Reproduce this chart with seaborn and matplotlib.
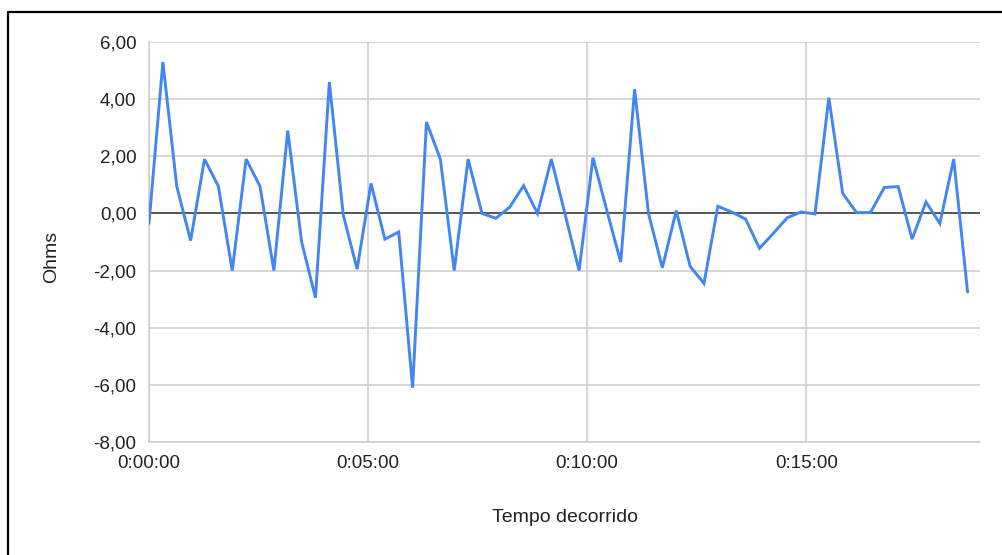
import matplotlib
matplotlib.use("Agg")
import matplotlib.pyplot as plt
import seaborn as sns
import pandas as pd
from matplotlib.lines import Line2D
from matplotlib.ticker import FuncFormatter

# tempo decorrido (segundos) e leitura em ohms
tempo_s = [0, 19, 38, 57, 76, 95, 114, 133, 152, 171,
           190, 209, 228, 247, 266, 285, 304, 323, 342, 361,
           380, 399, 418, 437, 456, 475, 494, 513, 532, 551,
           570, 589, 608, 627, 646, 665, 684, 703, 722, 741,
           760, 779, 798, 817, 836, 855, 874, 893, 912, 931,
           950, 969, 988, 1007, 1026, 1045, 1064, 1083, 1102, 1121]
ohms = [-0.35, 5.3, 0.95, -0.95, 1.9, 0.95, -2.0, 1.9, 0.95, -2.0,
        2.9, -1.0, -2.95, 4.6, -0.05, -1.95, 1.05, -0.9, -0.65, -6.1,
        3.2, 1.9, -2.0, 1.9, 0.0, -0.17, 0.22, 0.97, 0.0, 1.9,
        -0.05, -2.0, 1.95, 0.1, -1.7, 4.35, 0.0, -1.9, 0.1, -1.85,
        -2.45, 0.25, 0.05, -0.2, -1.22, -0.7, -0.15, 0.05, -0.02, 4.05,
        0.7, 0.03, 0.03, 0.91, 0.94, -0.9, 0.4, -0.35, 1.9, -2.75]

yticks = [-8, -6, -4, -2, 0, 2, 4, 6]
xticks = [0, 300, 600, 900]

df = pd.DataFrame({"Tempo decorrido": tempo_s, "Ohms": ohms})

sns.set_style("white")
plt.rcParams["font.family"] = ["Liberation Sans", "DejaVu Sans"]

fig = plt.figure(figsize=(10.02, 5.55), dpi=100)
ax = fig.add_axes([149 / 1002, 113 / 555, 831 / 1002, 400 / 555])

sns.lineplot(data=df, x="Tempo decorrido", y="Ohms", ax=ax,
             color="#4285F4", linewidth=2.1, zorder=3)
ax.lines[0].set_solid_joinstyle("miter")

ax.axhline(0, color="#333333", linewidth=1.1, zorder=2)

ax.set_xlim(0, 1138)
ax.set_ylim(-8, 6)
ax.set_xticks(xticks)
ax.set_yticks(yticks)


def fmt_tempo(v, pos):
    v = int(round(v))
    return f"{v // 3600}:{(v % 3600) // 60:02d}:{v % 60:02d}"


ax.xaxis.set_major_formatter(FuncFormatter(fmt_tempo))
ax.yaxis.set_major_formatter(FuncFormatter(lambda v, p: f"{v:.2f}".replace(".", ",")))

ax.grid(True, color="#cccccc", linewidth=1.1, zorder=0)
for lado in ["top", "right"]:
    ax.spines[lado].set_visible(False)
for lado in ["left", "bottom"]:
    ax.spines[lado].set_color("#cccccc")
    ax.spines[lado].set_linewidth(1.1)

ax.tick_params(axis="both", length=0, labelsize=13.5, colors="#222222")
ax.tick_params(axis="y", pad=9)
ax.tick_params(axis="x", pad=9)

ax.set_xlabel("Tempo decorrido", fontsize=14, color="#222222")
ax.set_ylabel("Ohms", fontsize=14, color="#222222")
ax.xaxis.set_label_coords(0.5006, -0.19)
ax.xaxis.label.set_va("center")
ax.yaxis.set_label_coords(-0.117, 0.4625)
ax.yaxis.label.set_va("center")

# moldura preta (topo e esquerda)
fig.add_artist(Line2D([8 / 1002, 1.0], [1 - 11.5 / 555, 1 - 11.5 / 555],
                      color="black", linewidth=1.6, transform=fig.transFigure))
fig.add_artist(Line2D([8 / 1002, 8 / 1002], [0.0, 1 - 11.5 / 555],
                      color="black", linewidth=1.6, transform=fig.transFigure))

fig.savefig("out.png", dpi=100)
plt.close(fig)
